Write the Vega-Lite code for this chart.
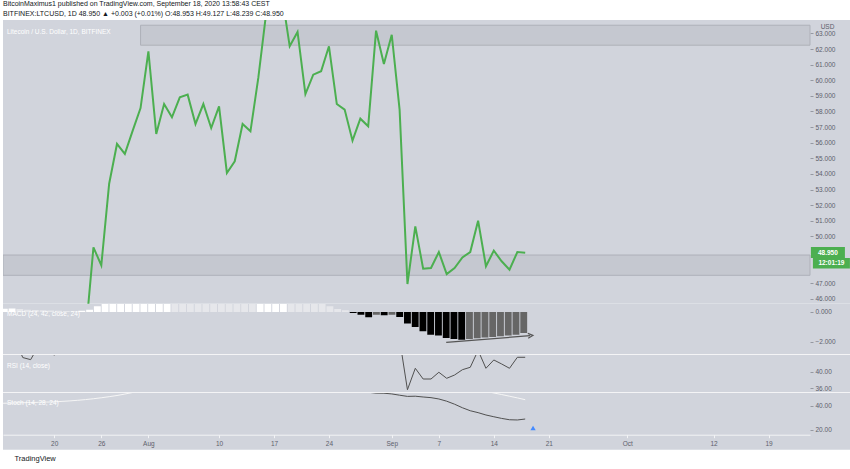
{
  "$schema": "https://vega.github.io/schema/vega-lite/v6.json",
  "background": "#FFFFFF",
  "padding": {"left": 3, "top": 0, "right": 0, "bottom": 0},
  "spacing": 0,
  "bounds": "flush",
  "title": {
    "text": "BitcoinMaximus1 published on TradingView.com, September 18, 2020 13:58:43 CEST",
    "subtitle": "BITFINEX:LTCUSD, 1D 48.950 ▲ +0.003 (+0.01%) O:48.953 H:49.127 L:48.239 C:48.950",
    "anchor": "start", "frame": "bounds", "fontSize": 7, "fontWeight": "normal", "color": "#131722",
    "subtitleFontSize": 7, "subtitleColor": "#131722", "subtitlePadding": 3, "offset": 3
  },
  "config": {
    "font": "Liberation Sans",
    "view": {"stroke": null, "fill": "#D1D4DC"},
    "axis": {"labelFont": "Liberation Sans", "labelFontSize": 6.5, "labelColor": "#5D606B", "tickColor": "#9598A1", "tickSize": 3, "domain": false, "grid": false, "labelPadding": 2, "labelOverlap": false, "labelFlush": false, "labelBound": false},
    "title": {"font": "Liberation Sans"}
  },
  "datasets": {
    "price": [
      {"date": "2020-07-24", "close": 43.7}, {"date": "2020-07-25", "close": 49.29}, {"date": "2020-07-26", "close": 48.14},
      {"date": "2020-07-27", "close": 53.37}, {"date": "2020-07-28", "close": 55.92}, {"date": "2020-07-29", "close": 55.28},
      {"date": "2020-07-30", "close": 56.77}, {"date": "2020-07-31", "close": 58.22}, {"date": "2020-08-01", "close": 61.86},
      {"date": "2020-08-02", "close": 56.56}, {"date": "2020-08-03", "close": 58.48}, {"date": "2020-08-04", "close": 57.63},
      {"date": "2020-08-05", "close": 58.91}, {"date": "2020-08-06", "close": 59.08}, {"date": "2020-08-07", "close": 57.2},
      {"date": "2020-08-08", "close": 58.48}, {"date": "2020-08-09", "close": 56.94}, {"date": "2020-08-10", "close": 58.33},
      {"date": "2020-08-11", "close": 54.06}, {"date": "2020-08-12", "close": 54.81}, {"date": "2020-08-13", "close": 57.2},
      {"date": "2020-08-14", "close": 56.73}, {"date": "2020-08-15", "close": 60.15}, {"date": "2020-08-16", "close": 64.3},
      {"date": "2020-08-17", "close": 66.0}, {"date": "2020-08-18", "close": 65.5}, {"date": "2020-08-19", "close": 62.18},
      {"date": "2020-08-20", "close": 63.1}, {"date": "2020-08-21", "close": 59.12}, {"date": "2020-08-22", "close": 60.36},
      {"date": "2020-08-23", "close": 60.58}, {"date": "2020-08-24", "close": 62.18}, {"date": "2020-08-25", "close": 58.48},
      {"date": "2020-08-26", "close": 58.12}, {"date": "2020-08-27", "close": 56.13}, {"date": "2020-08-28", "close": 57.54},
      {"date": "2020-08-29", "close": 57.05}, {"date": "2020-08-30", "close": 63.18}, {"date": "2020-08-31", "close": 61.04},
      {"date": "2020-09-01", "close": 62.92}, {"date": "2020-09-02", "close": 58.12}, {"date": "2020-09-03", "close": 46.94},
      {"date": "2020-09-04", "close": 50.64}, {"date": "2020-09-05", "close": 47.92}, {"date": "2020-09-06", "close": 47.97},
      {"date": "2020-09-07", "close": 48.99}, {"date": "2020-09-08", "close": 47.58}, {"date": "2020-09-09", "close": 47.97},
      {"date": "2020-09-10", "close": 48.65}, {"date": "2020-09-11", "close": 48.99}, {"date": "2020-09-12", "close": 51.0},
      {"date": "2020-09-13", "close": 48.08}, {"date": "2020-09-14", "close": 49.08}, {"date": "2020-09-15", "close": 48.4},
      {"date": "2020-09-16", "close": 47.86}, {"date": "2020-09-17", "close": 48.99}, {"date": "2020-09-18", "close": 48.95}
    ],
    "last": [{"date": "2020-09-18", "close": 48.95, "countdown": "12:01:19"}],
    "zones": [
      {"start": "2020-07-31T00:00:00Z", "end": "2020-10-24T06:43:00Z", "low": 62.25, "high": 63.53},
      {"start": "2020-07-13T11:28:00Z", "end": "2020-10-24T06:43:00Z", "low": 47.5, "high": 48.8}
    ],
    "macd": [
      {"date": "2020-07-13", "hist": 0.22, "state": "grow_above"}, {"date": "2020-07-14", "hist": 0.23, "state": "grow_above"},
      {"date": "2020-07-15", "hist": 0.2, "state": "fall_above"}, {"date": "2020-07-16", "hist": 0.16, "state": "fall_above"},
      {"date": "2020-07-17", "hist": 0.13, "state": "fall_above"}, {"date": "2020-07-18", "hist": 0.11, "state": "fall_above"},
      {"date": "2020-07-19", "hist": 0.1, "state": "fall_above"}, {"date": "2020-07-20", "hist": 0.08, "state": "fall_above"},
      {"date": "2020-07-21", "hist": 0.07, "state": "fall_above"}, {"date": "2020-07-22", "hist": 0.06, "state": "fall_above"},
      {"date": "2020-07-23", "hist": 0.08, "state": "grow_above"}, {"date": "2020-07-24", "hist": 0.16, "state": "grow_above"},
      {"date": "2020-07-25", "hist": 0.39, "state": "grow_above"}, {"date": "2020-07-26", "hist": 0.62, "state": "grow_above"},
      {"date": "2020-07-27", "hist": 0.95, "state": "grow_above"}, {"date": "2020-07-28", "hist": 1.25, "state": "grow_above"},
      {"date": "2020-07-29", "hist": 1.5, "state": "grow_above"}, {"date": "2020-07-30", "hist": 1.72, "state": "grow_above"},
      {"date": "2020-07-31", "hist": 1.95, "state": "grow_above"}, {"date": "2020-08-01", "hist": 2.3, "state": "grow_above"},
      {"date": "2020-08-02", "hist": 2.4, "state": "grow_above"}, {"date": "2020-08-03", "hist": 2.5, "state": "grow_above"},
      {"date": "2020-08-04", "hist": 2.48, "state": "fall_above"}, {"date": "2020-08-05", "hist": 2.42, "state": "fall_above"},
      {"date": "2020-08-06", "hist": 2.36, "state": "fall_above"}, {"date": "2020-08-07", "hist": 2.28, "state": "fall_above"},
      {"date": "2020-08-08", "hist": 2.2, "state": "fall_above"}, {"date": "2020-08-09", "hist": 2.1, "state": "fall_above"},
      {"date": "2020-08-10", "hist": 2.02, "state": "fall_above"}, {"date": "2020-08-11", "hist": 1.85, "state": "fall_above"},
      {"date": "2020-08-12", "hist": 1.72, "state": "fall_above"}, {"date": "2020-08-13", "hist": 1.66, "state": "fall_above"},
      {"date": "2020-08-14", "hist": 1.6, "state": "fall_above"}, {"date": "2020-08-15", "hist": 1.7, "state": "grow_above"},
      {"date": "2020-08-16", "hist": 1.9, "state": "grow_above"}, {"date": "2020-08-17", "hist": 2.1, "state": "grow_above"},
      {"date": "2020-08-18", "hist": 2.2, "state": "grow_above"}, {"date": "2020-08-19", "hist": 1.7, "state": "fall_above"},
      {"date": "2020-08-20", "hist": 1.4, "state": "fall_above"}, {"date": "2020-08-21", "hist": 1.1, "state": "fall_above"},
      {"date": "2020-08-22", "hist": 0.85, "state": "fall_above"}, {"date": "2020-08-23", "hist": 0.6, "state": "fall_above"},
      {"date": "2020-08-24", "hist": 0.39, "state": "fall_above"}, {"date": "2020-08-25", "hist": 0.2, "state": "fall_above"},
      {"date": "2020-08-26", "hist": 0.11, "state": "fall_above"}, {"date": "2020-08-27", "hist": -0.07, "state": "grow_below"},
      {"date": "2020-08-28", "hist": -0.18, "state": "grow_below"}, {"date": "2020-08-29", "hist": -0.36, "state": "grow_below"},
      {"date": "2020-08-30", "hist": -0.18, "state": "fall_below"}, {"date": "2020-08-31", "hist": -0.22, "state": "grow_below"},
      {"date": "2020-09-01", "hist": -0.18, "state": "fall_below"}, {"date": "2020-09-02", "hist": -0.34, "state": "grow_below"},
      {"date": "2020-09-03", "hist": -0.78, "state": "grow_below"}, {"date": "2020-09-04", "hist": -1.01, "state": "grow_below"},
      {"date": "2020-09-05", "hist": -1.3, "state": "grow_below"}, {"date": "2020-09-06", "hist": -1.53, "state": "grow_below"},
      {"date": "2020-09-07", "hist": -1.59, "state": "grow_below"}, {"date": "2020-09-08", "hist": -1.76, "state": "grow_below"},
      {"date": "2020-09-09", "hist": -1.82, "state": "grow_below"}, {"date": "2020-09-10", "hist": -1.87, "state": "grow_below"},
      {"date": "2020-09-11", "hist": -1.82, "state": "fall_below"}, {"date": "2020-09-12", "hist": -1.78, "state": "fall_below"},
      {"date": "2020-09-13", "hist": -1.73, "state": "fall_below"}, {"date": "2020-09-14", "hist": -1.69, "state": "fall_below"},
      {"date": "2020-09-15", "hist": -1.64, "state": "fall_below"}, {"date": "2020-09-16", "hist": -1.59, "state": "fall_below"},
      {"date": "2020-09-17", "hist": -1.53, "state": "fall_below"}, {"date": "2020-09-18", "hist": -1.42, "state": "fall_below"}
    ],
    "trend": [
      {"date": "2020-09-08T00:00:00Z", "hist": -2.05, "end": false},
      {"date": "2020-09-18T20:00:00Z", "hist": -1.6, "end": true}
    ],
    "rsi": [
      {"date": "2020-07-15", "rsi": 47.7}, {"date": "2020-07-16", "rsi": 43.4}, {"date": "2020-07-17", "rsi": 42.9},
      {"date": "2020-07-18", "rsi": 46.2}, {"date": "2020-07-19", "rsi": 46.0}, {"date": "2020-07-20", "rsi": 43.95},
      {"date": "2020-07-21", "rsi": 47.0}, {"date": "2020-09-02", "rsi": 47.8}, {"date": "2020-09-03", "rsi": 35.66},
      {"date": "2020-09-04", "rsi": 40.82}, {"date": "2020-09-05", "rsi": 38.24}, {"date": "2020-09-06", "rsi": 38.24},
      {"date": "2020-09-07", "rsi": 39.86}, {"date": "2020-09-08", "rsi": 38.41}, {"date": "2020-09-09", "rsi": 39.2},
      {"date": "2020-09-10", "rsi": 40.48}, {"date": "2020-09-11", "rsi": 41.06}, {"date": "2020-09-12", "rsi": 45.13},
      {"date": "2020-09-13", "rsi": 40.82}, {"date": "2020-09-14", "rsi": 42.82}, {"date": "2020-09-15", "rsi": 41.86},
      {"date": "2020-09-16", "rsi": 40.82}, {"date": "2020-09-17", "rsi": 43.47}, {"date": "2020-09-18", "rsi": 43.47}
    ],
    "stochK": [
      {"date": "2020-08-29", "k": 51.2}, {"date": "2020-08-30", "k": 50.5}, {"date": "2020-08-31", "k": 50.4},
      {"date": "2020-09-01", "k": 49.8}, {"date": "2020-09-02", "k": 48.75}, {"date": "2020-09-03", "k": 47.75},
      {"date": "2020-09-04", "k": 47.9}, {"date": "2020-09-05", "k": 47.25}, {"date": "2020-09-06", "k": 46.7},
      {"date": "2020-09-07", "k": 45.6}, {"date": "2020-09-08", "k": 43.75}, {"date": "2020-09-09", "k": 41.25},
      {"date": "2020-09-10", "k": 38.3}, {"date": "2020-09-11", "k": 35.8}, {"date": "2020-09-12", "k": 34.2},
      {"date": "2020-09-13", "k": 32.25}, {"date": "2020-09-14", "k": 30.8}, {"date": "2020-09-15", "k": 29.4},
      {"date": "2020-09-16", "k": 28.3}, {"date": "2020-09-17", "k": 28.1}, {"date": "2020-09-18", "k": 28.9}
    ],
    "stochD": [
      {"date": "2020-07-13", "d": 42.0}, {"date": "2020-07-14", "d": 42.1}, {"date": "2020-07-15", "d": 42.3},
      {"date": "2020-07-16", "d": 42.5}, {"date": "2020-07-17", "d": 42.6}, {"date": "2020-07-18", "d": 42.8},
      {"date": "2020-07-19", "d": 43.0}, {"date": "2020-07-20", "d": 43.2}, {"date": "2020-07-21", "d": 43.6},
      {"date": "2020-07-22", "d": 44.0}, {"date": "2020-07-23", "d": 44.5}, {"date": "2020-07-24", "d": 45.1},
      {"date": "2020-07-25", "d": 45.8}, {"date": "2020-07-26", "d": 46.6}, {"date": "2020-07-27", "d": 47.5},
      {"date": "2020-07-28", "d": 48.5}, {"date": "2020-07-29", "d": 49.7}, {"date": "2020-07-30", "d": 51.0},
      {"date": "2020-07-31", "d": 52.3}, {"date": "2020-09-13", "d": 52.0}, {"date": "2020-09-14", "d": 50.6},
      {"date": "2020-09-15", "d": 49.3}, {"date": "2020-09-16", "d": 47.9}, {"date": "2020-09-17", "d": 46.5},
      {"date": "2020-09-18", "d": 45.0}
    ],
    "events": [{"date": "2020-09-19", "v": 21.4}]
  },
  "vconcat": [
    {
      "width": 847, "height": 283.7,
      "title": {"text": "Litecoin / U.S. Dollar, 1D, BITFINEX", "anchor": "start", "frame": "group", "offset": -15, "dx": 4, "fontSize": 6.5, "fontWeight": "normal", "color": "#FFFFFF"},
      "resolve": {"axis": {"x": "independent", "y": "independent"}},
      "layer": [
        {
          "data": {"name": "zones"},
          "mark": {"type": "rect", "clip": true, "fill": "#C5C8D0", "stroke": "#AEB1B9", "strokeWidth": 1},
          "encoding": {
            "x": {"field": "start", "type": "temporal", "axis": null,
              "scale": {"type": "utc", "domain": [{"year": 2020, "month": 7, "date": 13, "hours": 11, "minutes": 28, "utc": true}, {"year": 2020, "month": 10, "date": 24, "hours": 6, "minutes": 43, "utc": true}], "range": [0, 807]}},
            "x2": {"field": "end"},
            "y": {"field": "low", "type": "quantitative",
              "scale": {"domain": [45.68, 63.865], "nice": false, "zero": false},
              "axis": {"orient": "right", "offset": -40, "values": [46, 47, 50, 51, 52, 53, 54, 55, 56, 57, 58, 59, 60, 61, 62, 63], "format": ".3f",
                "title": "USD", "titleAngle": 0, "titleX": 17, "titleY": 6, "titleAlign": "center", "titleBaseline": "middle", "titleFontSize": 6.5, "titleFontWeight": "normal", "titleColor": "#5D606B"}},
            "y2": {"field": "high"}
          }
        },
        {
          "data": {"name": "price"},
          "mark": {"type": "line", "clip": true, "color": "#4CAF50", "strokeWidth": 2},
          "encoding": {
            "x": {"field": "date", "type": "temporal", "axis": null},
            "y": {"field": "close", "type": "quantitative", "axis": null}
          }
        },
        {
          "data": {"name": "last"},
          "mark": {"type": "point", "filled": true, "color": "#4CAF50", "opacity": 1, "size": 1600, "strokeWidth": 0,
            "shape": "M-0.875,-0.285H0.825V0.265H-0.875Z M-0.775,0.265H1.075V0.79H-0.775Z"},
          "encoding": {
            "x": {"datum": {"year": 2020, "month": 10, "date": 26, "hours": 15, "utc": true}, "type": "temporal", "axis": null},
            "y": {"field": "close", "type": "quantitative", "axis": null}
          }
        },
        {
          "data": {"name": "last"},
          "mark": {"type": "text", "color": "#FFFFFF", "fontSize": 6.5, "fontWeight": "bold", "align": "center", "baseline": "middle", "dx": -0.5},
          "encoding": {
            "x": {"datum": {"year": 2020, "month": 10, "date": 26, "hours": 15, "utc": true}, "type": "temporal", "axis": null},
            "y": {"field": "close", "type": "quantitative", "axis": null},
            "text": {"field": "close", "type": "quantitative", "format": ".3f"}
          }
        },
        {
          "data": {"name": "last"},
          "mark": {"type": "text", "color": "#FFFFFF", "fontSize": 6.5, "fontWeight": "bold", "align": "center", "baseline": "middle", "dx": 3, "dy": 10.8},
          "encoding": {
            "x": {"datum": {"year": 2020, "month": 10, "date": 26, "hours": 15, "utc": true}, "type": "temporal", "axis": null},
            "y": {"field": "close", "type": "quantitative", "axis": null},
            "text": {"field": "countdown", "type": "nominal"}
          }
        },
        {
          "mark": {"type": "rule", "color": "#F2F3F5", "strokeWidth": 1},
          "encoding": {"y": {"datum": 45.68, "type": "quantitative", "axis": null}}
        },
        {
          "mark": {"type": "rule", "color": "#F2F3F5", "strokeWidth": 1},
          "encoding": {"x": {"datum": {"year": 2020, "month": 10, "date": 24, "hours": 6, "minutes": 43, "utc": true}, "type": "temporal", "axis": null}}
        }
      ]
    },
    {
      "width": 847, "height": 50.3,
      "title": {"text": "MACD (24, 42, close, 24)", "anchor": "start", "frame": "group", "offset": -13, "dx": 4, "fontSize": 6.5, "fontWeight": "normal", "color": "#FFFFFF"},
      "resolve": {"axis": {"x": "independent", "y": "independent"}},
      "layer": [
        {
          "data": {"name": "macd"},
          "mark": {"type": "bar", "clip": true, "width": 6.85},
          "encoding": {
            "x": {"field": "date", "type": "temporal", "axis": null,
              "scale": {"type": "utc", "domain": [{"year": 2020, "month": 7, "date": 13, "hours": 11, "minutes": 28, "utc": true}, {"year": 2020, "month": 10, "date": 24, "hours": 6, "minutes": 43, "utc": true}], "range": [0, 807]}},
            "y": {"field": "hist", "type": "quantitative",
              "scale": {"domain": [-2.858, 0.54], "nice": false, "zero": false},
              "axis": {"orient": "right", "offset": -40, "values": [0, -2], "format": ".3f", "title": null}},
            "y2": {"datum": 0},
            "color": {"field": "state", "type": "nominal", "legend": null,
              "scale": {"domain": ["grow_above", "fall_above", "grow_below", "fall_below"], "range": ["#FFFFFF", "#E6E7EB", "#000000", "#666666"]}}
          }
        },
        {
          "data": {"name": "trend"},
          "mark": {"type": "line", "clip": true, "color": "#555555", "strokeWidth": 1.2},
          "encoding": {
            "x": {"field": "date", "type": "temporal", "axis": null},
            "y": {"field": "hist", "type": "quantitative", "axis": null}
          }
        },
        {
          "data": {"name": "trend"},
          "transform": [{"filter": "datum.end"}],
          "mark": {"type": "point", "filled": false, "color": "#555555", "strokeWidth": 1.2, "size": 30, "angle": -4.5, "opacity": 1, "shape": "M-0.8,-0.9L1,0L-0.8,0.9"},
          "encoding": {
            "x": {"field": "date", "type": "temporal", "axis": null},
            "y": {"field": "hist", "type": "quantitative", "axis": null}
          }
        },
        {
          "mark": {"type": "rule", "color": "#F2F3F5", "strokeWidth": 1},
          "encoding": {"y": {"datum": -2.858, "type": "quantitative", "axis": null}}
        },
        {
          "mark": {"type": "rule", "color": "#F2F3F5", "strokeWidth": 1},
          "encoding": {"x": {"datum": {"year": 2020, "month": 10, "date": 24, "hours": 6, "minutes": 43, "utc": true}, "type": "temporal", "axis": null}}
        }
      ]
    },
    {
      "width": 847, "height": 37.3,
      "title": {"text": "RSI (14, close)", "anchor": "start", "frame": "group", "offset": -14, "dx": 4, "fontSize": 6.5, "fontWeight": "normal", "color": "#FFFFFF"},
      "resolve": {"axis": {"x": "independent", "y": "independent"}},
      "layer": [
        {
          "data": {"name": "rsi"},
          "mark": {"type": "line", "clip": true, "color": "#505050", "strokeWidth": 1},
          "encoding": {
            "x": {"field": "date", "type": "temporal", "axis": null,
              "scale": {"type": "utc", "domain": [{"year": 2020, "month": 7, "date": 13, "hours": 11, "minutes": 28, "utc": true}, {"year": 2020, "month": 10, "date": 24, "hours": 6, "minutes": 43, "utc": true}], "range": [0, 807]}},
            "y": {"field": "rsi", "type": "quantitative",
              "scale": {"domain": [35.04, 44.02], "nice": false, "zero": false},
              "axis": {"orient": "right", "offset": -40, "values": [40, 36], "format": ".2f", "title": null}}
          }
        },
        {
          "mark": {"type": "rule", "color": "#F2F3F5", "strokeWidth": 1},
          "encoding": {"y": {"datum": 35.04, "type": "quantitative", "axis": null}}
        },
        {
          "mark": {"type": "rule", "color": "#F2F3F5", "strokeWidth": 1},
          "encoding": {"x": {"datum": {"year": 2020, "month": 10, "date": 24, "hours": 6, "minutes": 43, "utc": true}, "type": "temporal", "axis": null}}
        }
      ]
    },
    {
      "width": 847, "height": 56.7,
      "title": {"text": "Stoch (14, 28, 24)", "anchor": "start", "frame": "group", "offset": -13, "dx": 4, "fontSize": 6.5, "fontWeight": "normal", "color": "#FFFFFF"},
      "resolve": {"axis": {"x": "independent", "y": "independent"}},
      "layer": [
        {
          "data": {"name": "stochD"},
          "mark": {"type": "line", "clip": true, "color": "#F5F5F5", "strokeWidth": 1},
          "encoding": {
            "x": {"field": "date", "type": "temporal",
              "scale": {"type": "utc", "domain": [{"year": 2020, "month": 7, "date": 13, "hours": 11, "minutes": 28, "utc": true}, {"year": 2020, "month": 10, "date": 24, "hours": 6, "minutes": 43, "utc": true}], "range": [0, 807]},
              "axis": {"orient": "bottom", "offset": -15, "domain": true, "domainColor": "#F2F3F5", "tickColor": "#F2F3F5", "tickSize": 3, "labelPadding": 3,
                "values": [
                  {"year": 2020, "month": 7, "date": 20, "utc": true}, {"year": 2020, "month": 7, "date": 26, "utc": true},
                  {"year": 2020, "month": 8, "date": 1, "utc": true}, {"year": 2020, "month": 8, "date": 10, "utc": true},
                  {"year": 2020, "month": 8, "date": 17, "utc": true}, {"year": 2020, "month": 8, "date": 24, "utc": true},
                  {"year": 2020, "month": 9, "date": 1, "utc": true}, {"year": 2020, "month": 9, "date": 7, "utc": true},
                  {"year": 2020, "month": 9, "date": 14, "utc": true}, {"year": 2020, "month": 9, "date": 21, "utc": true},
                  {"year": 2020, "month": 10, "date": 1, "utc": true}, {"year": 2020, "month": 10, "date": 12, "utc": true},
                  {"year": 2020, "month": 10, "date": 19, "utc": true}],
                "labelExpr": "utcdate(datum.value) == 1 ? utcFormat(datum.value, '%b') : utcFormat(datum.value, '%-d')",
                "title": "TradingView", "titleX": 11, "titleY": 20, "titleAlign": "left", "titleAnchor": "start", "titleBaseline": "top",
                "titleFontSize": 7.5, "titleFontWeight": "normal", "titleColor": "#131722"}},
            "y": {"field": "d", "type": "quantitative",
              "scale": {"domain": [15.83, 50.58], "range": [41.7, 0], "nice": false, "zero": false},
              "axis": {"orient": "right", "offset": -40, "values": [40, 20], "format": ".2f", "title": null}}
          }
        },
        {
          "data": {"name": "stochK"},
          "mark": {"type": "line", "clip": true, "color": "#505050", "strokeWidth": 1},
          "encoding": {
            "x": {"field": "date", "type": "temporal", "axis": null},
            "y": {"field": "k", "type": "quantitative", "axis": null}
          }
        },
        {
          "data": {"name": "events"},
          "mark": {"type": "point", "shape": "triangle-up", "filled": true, "color": "#448AFF", "opacity": 1, "size": 28},
          "encoding": {
            "x": {"field": "date", "type": "temporal", "axis": null},
            "y": {"field": "v", "type": "quantitative", "axis": null}
          }
        },
        {
          "mark": {"type": "rule", "color": "#F2F3F5", "strokeWidth": 1},
          "encoding": {"y": {"datum": 15.83, "type": "quantitative", "axis": null}}
        },
        {
          "mark": {"type": "rule", "color": "#F2F3F5", "strokeWidth": 1},
          "encoding": {"x": {"datum": {"year": 2020, "month": 10, "date": 24, "hours": 6, "minutes": 43, "utc": true}, "type": "temporal", "axis": null}}
        }
      ]
    }
  ]
}
